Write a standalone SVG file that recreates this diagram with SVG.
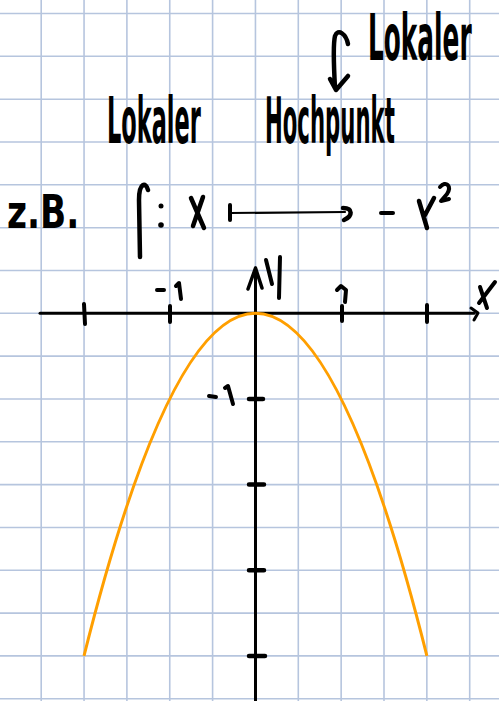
<svg xmlns="http://www.w3.org/2000/svg" width="499" height="701" viewBox="0 0 499 701">
<style>
.grid line{stroke:#b6c5de;stroke-width:1.6}
.ink{fill:#000;font-family:"Liberation Sans Narrow","DejaVu Sans Condensed","Liberation Sans",sans-serif;font-weight:bold}
.pen{stroke:#000;fill:none;stroke-linecap:round;stroke-linejoin:round}
</style>
<rect width="499" height="701" fill="#fff"/>
<g id="grid" class="grid">
<line x1="41.2" y1="0" x2="41.2" y2="701"/>
<line x1="84.05" y1="0" x2="84.05" y2="701"/>
<line x1="126.9" y1="0" x2="126.9" y2="701"/>
<line x1="169.75" y1="0" x2="169.75" y2="701"/>
<line x1="212.6" y1="0" x2="212.6" y2="701"/>
<line x1="255.45" y1="0" x2="255.45" y2="701"/>
<line x1="298.3" y1="0" x2="298.3" y2="701"/>
<line x1="341.15" y1="0" x2="341.15" y2="701"/>
<line x1="384" y1="0" x2="384" y2="701"/>
<line x1="426.85" y1="0" x2="426.85" y2="701"/>
<line x1="469.7" y1="0" x2="469.7" y2="701"/>
<line x1="0" y1="13.5" x2="499" y2="13.5"/>
<line x1="0" y1="56.3" x2="499" y2="56.3"/>
<line x1="0" y1="99.2" x2="499" y2="99.2"/>
<line x1="0" y1="142" x2="499" y2="142"/>
<line x1="0" y1="184.8" x2="499" y2="184.8"/>
<line x1="0" y1="227.7" x2="499" y2="227.7"/>
<line x1="0" y1="270.5" x2="499" y2="270.5"/>
<line x1="0" y1="313.3" x2="499" y2="313.3"/>
<line x1="0" y1="356.1" x2="499" y2="356.1"/>
<line x1="0" y1="399" x2="499" y2="399"/>
<line x1="0" y1="441.8" x2="499" y2="441.8"/>
<line x1="0" y1="484.6" x2="499" y2="484.6"/>
<line x1="0" y1="527.5" x2="499" y2="527.5"/>
<line x1="0" y1="570.3" x2="499" y2="570.3"/>
<line x1="0" y1="613.1" x2="499" y2="613.1"/>
<line x1="0" y1="655.9" x2="499" y2="655.9"/>
<line x1="0" y1="698.8" x2="499" y2="698.8"/>
</g>
<g id="title">
<text class="ink" font-size="64" transform="translate(107,143) scale(0.39,1)">Lokaler</text>
<text class="ink" font-size="64" transform="translate(265,143) scale(0.369,1)">Hochpunkt</text>
<text class="ink" font-size="64" transform="translate(368,60) scale(0.431,1)">Lokaler</text>
<path class="pen" stroke-width="4.5" d="M348 44 C346 34 338 28 335 36 C333 44 334 70 335 88 M330 79 L336 90 L348 76"/>
</g>
<g id="example">
<text class="ink" font-size="46" transform="translate(7,228) scale(0.83,1)">z.B.</text>
<path class="pen" stroke-width="4.5" d="M148 190 C146 182 139 182 139 200 L140 257"/>
<circle cx="161" cy="206" r="2.5"/>
<circle cx="161" cy="225" r="2.8"/>
<path class="pen" stroke-width="4.5" d="M191 198 L204 228 M203 197 L193 226"/>
<path class="pen" stroke-width="4" d="M230 205 L230 220"/>
<path class="pen" stroke-width="2.2" d="M230 213 L345 212"/>
<path class="pen" stroke-width="4.5" d="M343 208 C353 208 353 216 344 220"/>
<path class="pen" stroke-width="4" d="M381 213 L393 213"/>
<path class="pen" stroke-width="4.5" d="M419 201 L427 228 M434 198 L425 215"/>
<path class="pen" stroke-width="4" d="M440 187 C446 180 452 186 447 194 L441 201 L449 199"/>
</g>
<g id="axes">
<path class="pen" stroke-width="3" d="M40 313.3 L474 313.3"/>
<path class="pen" stroke-width="3" d="M471 308 L478 313 L474 320"/>
<path class="pen" stroke-width="3" d="M255.5 701 L255.5 268"/>
<path class="pen" stroke-width="3.5" d="M248 289 L255.5 268 L262 288"/>
<path class="pen" stroke-width="4" d="M84 304 L85 324 M170 306 L170 322 M342 306 L342 321 M427 305 L427 322"/>
<path class="pen" stroke-width="4.5" d="M249 399 L263 399 M249 484.6 L264 484.6 M249 570.3 L264 570.3 M249 655.9 L265 655.9"/>
<path class="pen" stroke-width="4" d="M157 290 L164 290 M176 286 L179 283 L181 299"/>
<path class="pen" stroke-width="4" d="M337 290 L341 286 L346 290 L345 302"/>
<path class="pen" stroke-width="4" d="M479 303 L495 282 M480 287 L487 308"/>
<path class="pen" stroke-width="4" d="M266 260 L272 284 M280 257 L279 298"/>
<path class="pen" stroke-width="4" d="M209 396 L216 397 M225 388 L228 386 L233 404"/>
</g>
<g id="curve">
<path d="M84 655.9 Q255.5 -29.3 426.9 655.9" fill="none" stroke="#ff9f00" stroke-width="3"/>
</g>
</svg>
